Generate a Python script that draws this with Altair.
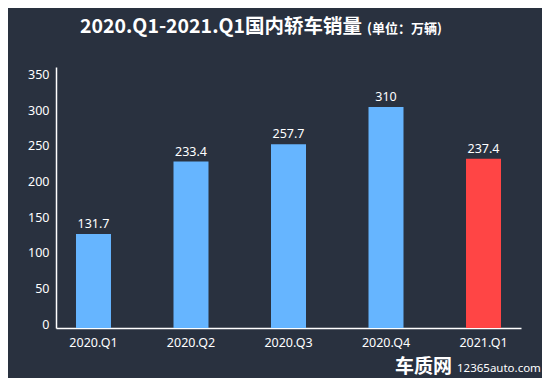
import altair as alt
import pandas as pd

quarters = ["2020.Q1", "2020.Q2", "2020.Q3", "2020.Q4", "2021.Q1"]
sales = [131.7, 233.4, 257.7, 310, 237.4]
bar_colors = ["#66b5ff", "#66b5ff", "#66b5ff", "#66b5ff", "#ff4545"]
y_ticks = [0, 50, 100, 150, 200, 250, 300, 350]

df = pd.DataFrame({"quarter": quarters, "sales": sales, "color": bar_colors})

x = alt.X("quarter:N", sort=quarters,
          scale=alt.Scale(paddingInner=0.641, paddingOuter=0.205),
          axis=alt.Axis(title=None, labelAngle=0, labelColor="#ffffff",
                        labelFont="Noto Sans", labelFontSize=12.5, labelPadding=8,
                        ticks=False, domainColor="#ffffff", domainWidth=1.5,
                        grid=False))
y = alt.Y("sales:Q", scale=alt.Scale(domain=[0, 366], nice=False),
          axis=alt.Axis(title=None, values=y_ticks, labelColor="#ffffff",
                        labelFont="Noto Sans", labelFontSize=12.5, labelPadding=7,
                        labelOffset=-4, labelOverlap=False, labelFlush=False,
                        ticks=False, domainColor="#ffffff",
                        domainWidth=1.5, grid=False))

base = alt.Chart(df).encode(x=x, y=y)

bars = base.mark_bar().encode(color=alt.Color("color:N", scale=None))

labels = base.mark_text(
    baseline="bottom", dy=-3, color="#ffffff", font="Noto Sans", fontSize=12.5
).encode(text=alt.Text("sales:Q"))

title_df = pd.DataFrame({"t": ["2020.Q1-2021.Q1国内轿车销量"]})
title_main = alt.Chart(title_df).mark_text(
    align="right", baseline="alphabetic", color="#ffffff",
    font="Noto Sans CJK SC", fontSize=19.5, fontWeight="bold"
).encode(x=alt.value(306), y=alt.value(-34), text="t:N")

sub_df = pd.DataFrame({"t": ["(单位：万辆)"]})
title_sub = alt.Chart(sub_df).mark_text(
    align="left", baseline="alphabetic", color="#ffffff",
    font="Noto Sans CJK SC", fontSize=13, fontWeight="bold"
).encode(x=alt.value(311), y=alt.value(-34), text="t:N")

wm1_df = pd.DataFrame({"t": ["车质网"]})
wm1 = alt.Chart(wm1_df).mark_text(
    align="left", baseline="alphabetic", color="#ffffff",
    font="Noto Sans CJK SC", fontSize=19, fontWeight="bold"
).encode(x=alt.value(339), y=alt.value(306), text="t:N")

wm2_df = pd.DataFrame({"t": ["12365auto.com"]})
wm2 = alt.Chart(wm2_df).mark_text(
    align="left", baseline="alphabetic", color="#ffffff",
    font="Noto Sans", fontSize=11.5
).encode(x=alt.value(401), y=alt.value(305), text="t:N")

chart = alt.layer(bars, labels, title_main, title_sub, wm1, wm2).properties(
    width=465, height=261,
    autosize=alt.AutoSizeParams(type="none"),
    padding={"left": 48, "top": 59, "right": 21, "bottom": 50},
    background="#29313f",
).configure_view(stroke=None).configure_axis(labelOverlap=False)

chart.save("out.html", embed_options={"renderer": "svg", "actions": False})
